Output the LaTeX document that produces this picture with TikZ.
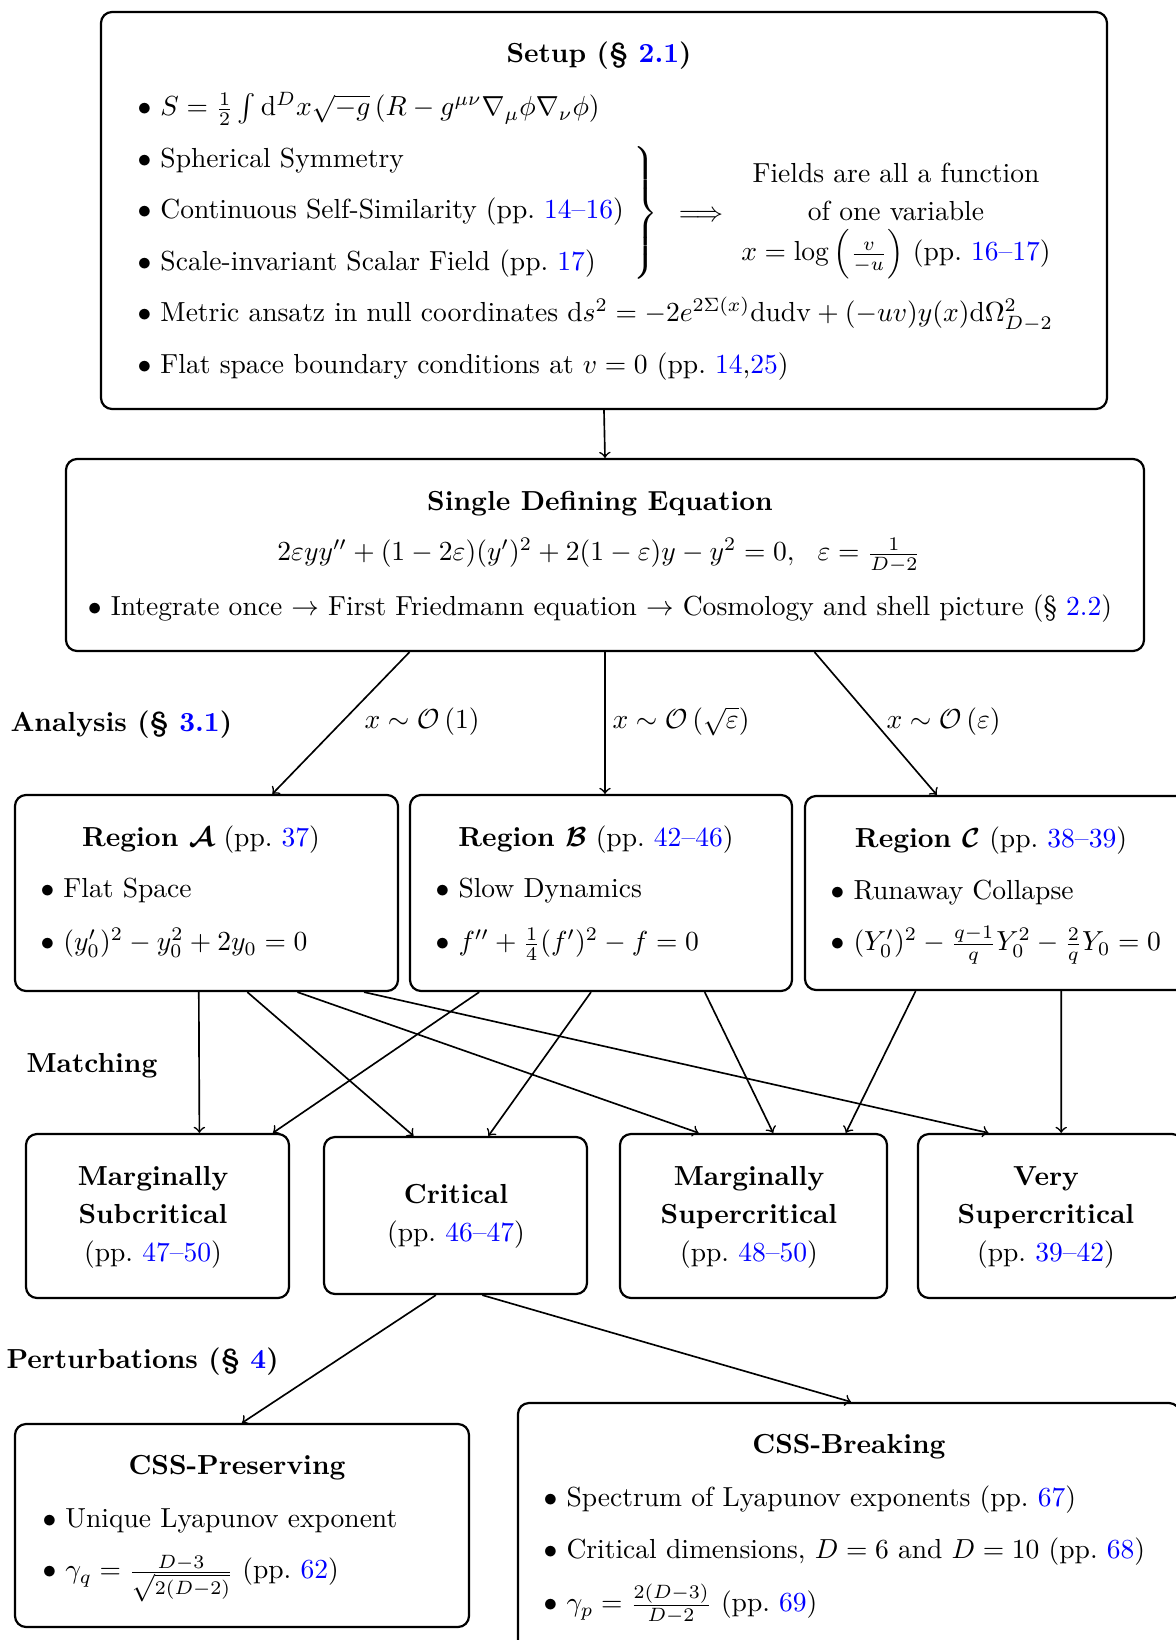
\documentclass[tikz,border=0pt]{standalone}
\usepackage{amsmath,amssymb,bm}
\usetikzlibrary{calc,fit}
\definecolor{lnk}{rgb}{0,0,1}
\newcommand{\lk}[1]{\textcolor{lnk}{#1}}
\newcommand{\bul}{$\bullet$\ }
\begin{document}
\begin{tikzpicture}[x=0.363pt,y=-0.363pt,
  box/.style={draw, line width=0.8pt, rounded corners=4pt, inner sep=0pt},
  txt/.style={inner sep=0pt, text height=6.94pt, text depth=1.94pt, yshift=-0.75pt},
  lt/.style={txt, anchor=west},
  arr/.style={->, line width=0.6pt}]
\useasboundingbox (0,0) rectangle (1176,1640);

% ---------- Setup ----------
\node[box, fit={(101,12) (1107,409)}] (setup) {};
\node[txt] (setupT) at (599,54) {\textbf{Setup (\S~\lk{2.1})}};
\node[lt] (s1) at (137,107) {\bul $S=\frac{1}{2}\int \mathrm{d}^D x\sqrt{-g}\left(R-g^{\mu\nu}\nabla_\mu\phi\nabla_\nu\phi\right)$};
\node[lt] (s2) at (137,159) {\bul Spherical Symmetry};
\node[lt] (s3) at (137,210) {\bul Continuous Self-Similarity (pp.~\lk{14--16})};
\node[lt] (s4) at (137,262) {\bul Scale-invariant Scalar Field (pp.~\lk{17})};
\node[lt] (s5) at (137,313) {\bul Metric ansatz in null coordinates $\mathrm{d}s^2=-2e^{2\Sigma(x)}\mathrm{dudv}+(-uv)y(x)\mathrm{d}\Omega^2_{D-2}$};
\node[lt] (s6) at (137,365) {\bul Flat space boundary conditions at $v=0$ (pp.~\lk{14},\lk{25})};
\node[inner sep=0pt, yshift=-0.75pt] (brace) at (644,211) {$\left.\vrule height 26pt depth 21pt width 0pt\right\}$};
\node[txt] (impl) at (701,213) {$\Longrightarrow$};
\node[txt] (f1) at (896,174) {Fields are all a function};
\node[txt] (f2) at (896,212) {of one variable};
\node[txt] (f3) at (896,252) {$x=\log\left(\frac{v}{-u}\right)$ (pp.~\lk{16--17})};

% ---------- Single Defining Equation ----------
\node[box, fit={(66,459) (1144,651)}] (sde) {};
\node[txt] (sdeT) at (600,502) {\textbf{Single Defining Equation}};
\node[txt] (sdeE) at (599,552) {$2\varepsilon yy''+(1-2\varepsilon)(y')^2+2(1-\varepsilon)y-y^2=0,\ \ \varepsilon=\frac{1}{D-2}$};
\node[txt] (sdeB) at (600,607) {\bul Integrate once $\to$ First Friedmann equation $\to$ Cosmology and shell picture (\S~\lk{2.2})};

\draw[arr] (setup.south) -- (sde.north);

% ---------- Analysis ----------
\node[lt] (anal) at (10,723) {\textbf{Analysis (\S~\lk{3.1})}};

\node[box, fit={(15,795) (398,991)}] (rA) {};
\node[box, fit={(410,795) (792,991)}] (rB) {};
\node[box, fit={(805,796) (1188,990)}] (rC) {};

\node[txt] (rAT) at (201,838) {\textbf{Region $\boldsymbol{\mathcal{A}}$} (pp.~\lk{37})};
\node[lt] (rA1) at (40,889) {\bul Flat Space};
\node[lt] (rA2) at (40,942) {\bul $(y_0')^2-y_0^2+2y_0=0$};

\node[txt] (rBT) at (596,838) {\textbf{Region $\boldsymbol{\mathcal{B}}$} (pp.~\lk{42--46})};
\node[lt] (rB1) at (435,889) {\bul Slow Dynamics};
\node[lt] (rB2) at (435,942) {\bul $f''+\frac{1}{4}(f')^2-f=0$};

\node[txt] (rCT) at (991,839) {\textbf{Region $\boldsymbol{\mathcal{C}}$} (pp.~\lk{38--39})};
\node[lt] (rC1) at (830,891) {\bul Runaway Collapse};
\node[lt] (rC2) at (830,942) {\bul $(Y_0')^2-\frac{q-1}{q}Y_0^2-\frac{2}{q}Y_0=0$};

\draw[arr] ($(sde.south west)!0.319!(sde.south east)$) -- ($(rA.north west)!0.671!(rA.north east)$);
\draw[arr] (sde.south) -- (sde.south |- rB.north);
\draw[arr] ($(sde.south west)!0.694!(sde.south east)$) -- ($(rC.north west)!0.345!(rC.north east)$);
\node[lt] (l1) at (364,720) {$x\sim\mathcal{O}\left(1\right)$};
\node[lt] (l2) at (612,720) {$x\sim\mathcal{O}\left(\sqrt{\varepsilon}\right)$};
\node[lt] (l3) at (886,720) {$x\sim\mathcal{O}\left(\varepsilon\right)$};

% ---------- Matching ----------
\node[lt] (match) at (26,1064) {\textbf{Matching}};

\node[box, fit={(26,1134) (289,1298)}] (ms) {};
\node[box, fit={(324,1137) (587,1294)}] (cr) {};
\node[box, fit={(620,1134) (887,1298)}] (msp) {};
\node[box, fit={(918,1134) (1183,1298)}] (vs) {};

\node[txt] (ms1) at (153,1177) {\textbf{Marginally}};
\node[txt] (ms2) at (153,1215) {\textbf{Subcritical}};
\node[txt] (ms3) at (153,1253) {(pp.~\lk{47--50})};
\node[txt] (cr1) at (456,1195) {\textbf{Critical}};
\node[txt] (cr2) at (456,1233) {(pp.~\lk{46--47})};
\node[txt] (msp1) at (749,1177) {\textbf{Marginally}};
\node[txt] (msp2) at (749,1215) {\textbf{Supercritical}};
\node[txt] (msp3) at (749,1253) {(pp.~\lk{48--50})};
\node[txt] (vs1) at (1046,1177) {\textbf{Very}};
\node[txt] (vs2) at (1046,1215) {\textbf{Supercritical}};
\node[txt] (vs3) at (1046,1253) {(pp.~\lk{39--42})};

\draw[arr] ($(rA.south west)!0.480!(rA.south east)$) -- ($(ms.north west)!0.658!(ms.north east)$);
\draw[arr] ($(rA.south west)!0.606!(rA.south east)$) -- ($(cr.north west)!0.342!(cr.north east)$);
\draw[arr] ($(rA.south west)!0.736!(rA.south east)$) -- ($(msp.north west)!0.296!(msp.north east)$);
\draw[arr] ($(rA.south west)!0.909!(rA.south east)$) -- ($(vs.north west)!0.268!(vs.north east)$);
\draw[arr] ($(rB.south west)!0.183!(rB.south east)$) -- ($(ms.north west)!0.935!(ms.north east)$);
\draw[arr] ($(rB.south west)!0.474!(rB.south east)$) -- ($(cr.north west)!0.624!(cr.north east)$);
\draw[arr] ($(rB.south west)!0.770!(rB.south east)$) -- ($(msp.north west)!0.573!(msp.north east)$);
\draw[arr] ($(rC.south west)!0.290!(rC.south east)$) -- ($(msp.north west)!0.843!(msp.north east)$);
\draw[arr] ($(rC.south west)!0.668!(rC.south east)$) -- ($(vs.north west)!0.540!(vs.north east)$);

% ---------- Perturbations ----------
\node[lt] (pert) at (6,1360) {\textbf{Perturbations (\S~\lk{4})}};

\node[box, fit={(15,1424) (469,1627)}] (cssp) {};
\node[box, fit={(518,1403) (1180,1700)}] (cssb) {};

\node[txt] (csspT) at (237,1466) {\textbf{CSS-Preserving}};
\node[lt] (cssp1) at (42,1519) {\bul Unique Lyapunov exponent};
\node[lt] (cssp2) at (42,1570) {\bul $\gamma_q=\frac{D-3}{\sqrt{2(D-2)}}$ (pp.~\lk{62})};

\node[txt] (cssbT) at (849,1445) {\textbf{CSS-Breaking}};
\node[lt] (cssb1) at (543,1498) {\bul Spectrum of Lyapunov exponents (pp.~\lk{67})};
\node[lt] (cssb2) at (543,1550) {\bul Critical dimensions, $D=6$ and $D=10$ (pp.~\lk{68})};
\node[lt] (cssb3) at (543,1603) {\bul $\gamma_p=\frac{2(D-3)}{D-2}$ (pp.~\lk{69})};

\draw[arr] ($(cr.south west)!0.426!(cr.south east)$) -- (cssp.north);
\draw[arr] ($(cr.south west)!0.601!(cr.south east)$) -- ($(cssb.north west)!0.503!(cssb.north east)$);
\end{tikzpicture}
\end{document}
